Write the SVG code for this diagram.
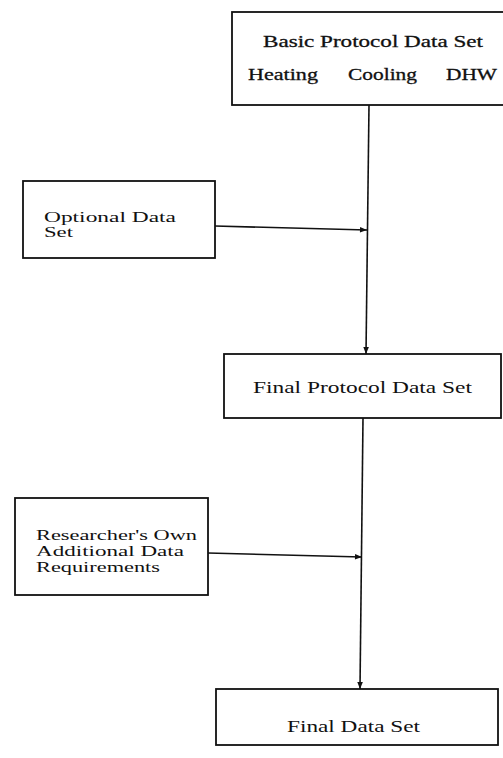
<svg xmlns="http://www.w3.org/2000/svg" width="503" height="758" viewBox="0 0 503 758">
  <style>
    .box { fill: #ffffff; stroke: #111111; stroke-width: 1.8; }
    .lbl { font-family: "Liberation Serif", "DejaVu Serif", "Times New Roman", serif; font-size: 17px; fill: #111111; }
    .tight { font-size: 14px; }
    .wire { fill: none; stroke: #111111; stroke-width: 1.6; }
  </style>
  <defs>
    <marker id="arrow" viewBox="0 0 10 10" refX="10" refY="5" markerWidth="9" markerHeight="7" orient="auto" markerUnits="userSpaceOnUse">
      <path d="M0,1 L10,5 L0,9 Z" fill="#111111"/>
    </marker>
  </defs>
  <rect width="503" height="758" fill="#ffffff"/>

  <g id="connectors">
    <!-- main spine: basic set down to final protocol set -->
    <path class="wire" d="M369,105 L366,354" marker-end="url(#arrow)"/>
    <!-- optional data joins spine -->
    <path class="wire" d="M215,226 L367,230" marker-end="url(#arrow)"/>
    <!-- final protocol set down to final data set -->
    <path class="wire" d="M363,418 L360,689" marker-end="url(#arrow)"/>
    <!-- researcher's own requirements join spine -->
    <path class="wire" d="M208,553 L362,557" marker-end="url(#arrow)"/>
  </g>

  <g id="basic-protocol">
    <rect class="box" x="232" y="12" width="285" height="93"/>
    <text class="lbl" x="263" y="47" textLength="220" lengthAdjust="spacingAndGlyphs" stroke="#111111" stroke-width="0.3">Basic Protocol Data Set</text>
    <text class="lbl" x="248" y="80" textLength="70" lengthAdjust="spacingAndGlyphs" stroke="#111111" stroke-width="0.3">Heating</text>
    <text class="lbl" x="348" y="80" textLength="69" lengthAdjust="spacingAndGlyphs" stroke="#111111" stroke-width="0.3">Cooling</text>
    <text class="lbl" x="446" y="80" textLength="51" lengthAdjust="spacingAndGlyphs" stroke="#111111" stroke-width="0.3">DHW</text>
  </g>

  <g id="optional-data">
    <rect class="box" x="23" y="181" width="192" height="77"/>
    <text class="lbl tight" x="44" y="222" textLength="132" lengthAdjust="spacingAndGlyphs">Optional Data</text>
    <text class="lbl tight" x="44" y="237" textLength="29" lengthAdjust="spacingAndGlyphs">Set</text>
  </g>

  <g id="final-protocol">
    <rect class="box" x="224" y="354" width="277" height="64"/>
    <text class="lbl" x="253" y="393" textLength="219" lengthAdjust="spacingAndGlyphs">Final Protocol Data Set</text>
  </g>

  <g id="researcher-requirements">
    <rect class="box" x="15" y="498" width="193" height="97"/>
    <text class="lbl tight" x="36" y="540" textLength="161" lengthAdjust="spacingAndGlyphs">Researcher's Own</text>
    <text class="lbl tight" x="36" y="556" textLength="148" lengthAdjust="spacingAndGlyphs">Additional Data</text>
    <text class="lbl tight" x="36" y="572" textLength="124" lengthAdjust="spacingAndGlyphs">Requirements</text>
  </g>

  <g id="final-data">
    <rect class="box" x="216" y="689" width="282" height="56"/>
    <text class="lbl" x="287" y="732" textLength="133" lengthAdjust="spacingAndGlyphs">Final Data Set</text>
  </g>
</svg>
